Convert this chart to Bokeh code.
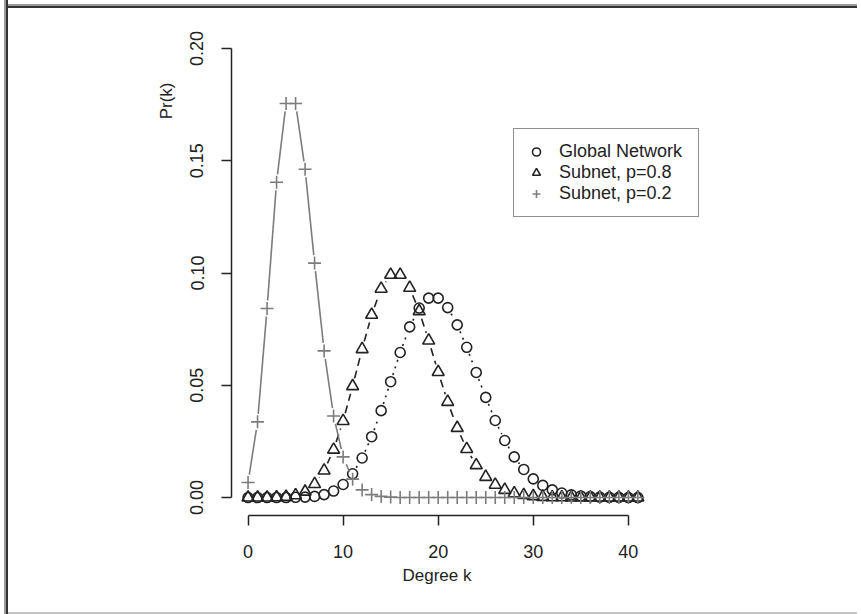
import math
from bokeh.plotting import figure
from bokeh.models import (Range1d, FixedTicker, PrintfTickFormatter, Legend,
                          LegendItem, Title, ColumnDataSource, InlineStyleSheet)
from bokeh.embed import file_html
from bokeh.resources import INLINE

# ---------------- data ----------------
degree_k = list(range(0, 42))
global_network = [0.0000, 0.0000, 0.0000, 0.0000, 0.0000, 0.0001, 0.0002, 0.0005,
                  0.0013, 0.0029, 0.0058, 0.0106, 0.0176, 0.0271, 0.0387, 0.0516,
                  0.0646, 0.0760, 0.0844, 0.0888, 0.0888, 0.0846, 0.0769, 0.0669,
                  0.0557, 0.0446, 0.0343, 0.0254, 0.0181, 0.0125, 0.0083, 0.0054,
                  0.0034, 0.0020, 0.0012, 0.0007, 0.0004, 0.0002, 0.0001, 0.0001,
                  0.0000, 0.0000]
subnet_p08 = [0.0000, 0.0000, 0.0000, 0.0001, 0.0003, 0.0010, 0.0026, 0.0060,
              0.0120, 0.0213, 0.0341, 0.0496, 0.0661, 0.0814, 0.0930, 0.0992,
              0.0992, 0.0934, 0.0830, 0.0699, 0.0559, 0.0426, 0.0310, 0.0216,
              0.0144, 0.0092, 0.0057, 0.0034, 0.0019, 0.0011, 0.0006, 0.0003,
              0.0001, 0.0001, 0.0000, 0.0000, 0.0000, 0.0000, 0.0000, 0.0000,
              0.0000, 0.0000]
subnet_p02 = [0.0067, 0.0337, 0.0842, 0.1404, 0.1755, 0.1755, 0.1462, 0.1044,
              0.0653, 0.0363, 0.0181, 0.0082, 0.0034, 0.0013, 0.0005, 0.0002,
              0.0000, 0.0000, 0.0000, 0.0000, 0.0000, 0.0000, 0.0000, 0.0000,
              0.0000, 0.0000, 0.0000, 0.0000, 0.0000, 0.0000, 0.0000, 0.0000,
              0.0000, 0.0000, 0.0000, 0.0000, 0.0000, 0.0000, 0.0000, 0.0000,
              0.0000, 0.0000]
series_labels = ["Global Network", "Subnet, p=0.8", "Subnet, p=0.2"]
x_ticks = [0, 10, 20, 30, 40]
y_ticks = [0.00, 0.05, 0.10, 0.15, 0.20]
x_title = "Degree k"
y_title = "Pr(k)"

# ---------------- layout ----------------
W, H = 861, 614
FL, FT, FB = 231, 30, 515
FR = 760                      # frame reaches far enough for the legend
PX_PER_K = 421 / 44.28        # R-style padded range over 421 px
XR = (-1.74, -1.74 + (FR - FL) / PX_PER_K)
YR = (-0.008, 0.208)
FONT = "Liberation Sans"
DARK = "#222222"
GRAY = "#7c7c7c"

p = figure(width=W, height=H, x_range=Range1d(*XR), y_range=Range1d(*YR),
           output_backend="svg", toolbar_location=None,
           min_border_left=FL, min_border_right=W - FR,
           min_border_top=FT, min_border_bottom=H - FB)
p.outline_line_color = None
p.grid.visible = False
p.background_fill_color = None
p.border_fill_color = None
# thin double frame round the picture (top/left) and a faint bottom rule
p.stylesheets = [InlineStyleSheet(css=(
    ":host { background: "
    "linear-gradient(#fff, #fff) 100% 0 / 4px 100% no-repeat, "
    "linear-gradient(to right, #fff 0, #fff 4px, #9a9a9a 4px, #9a9a9a 6px, "
    "#333 6px, #333 8px, transparent 8px) 0 0 / 8px 100% no-repeat, "
    "linear-gradient(to bottom, #fff 0, #fff 4px, #9a9a9a 4px, #9a9a9a 6px, "
    "#333 6px, #333 8px, transparent 8px) 0 0 / 100% 8px no-repeat, "
    "linear-gradient(#c4c4c4, #c4c4c4) 0 100% / 100% 2px no-repeat, white; }"))]

for ax in (p.xaxis[0], p.yaxis[0]):
    ax.axis_line_color = DARK
    ax.axis_line_width = 1.5
    ax.major_tick_line_color = DARK
    ax.major_tick_line_width = 1.5
    ax.major_tick_out = 10
    ax.major_tick_in = 0
    ax.minor_tick_line_color = None
    ax.major_label_text_font = FONT
    ax.major_label_text_font_size = "18px"
    ax.major_label_text_color = DARK

p.xaxis[0].ticker = FixedTicker(ticks=x_ticks)
p.xaxis[0].bounds = (x_ticks[0], x_ticks[-1])
p.xaxis[0].major_label_standoff = 19

p.yaxis[0].ticker = FixedTicker(ticks=y_ticks)
p.yaxis[0].bounds = (y_ticks[0], y_ticks[-1])
p.yaxis[0].formatter = PrintfTickFormatter(format="%.2f")
p.yaxis[0].major_label_orientation = "vertical"
p.yaxis[0].major_label_standoff = 18

# axis titles placed like the R original
p.add_layout(Title(text=x_title, align="left", offset=171, standoff=7,
                   text_font=FONT, text_font_size="17px",
                   text_font_style="normal", text_color=DARK), "below")
p.add_layout(Title(text=y_title, align="right", offset=52, standoff=23,
                   text_font=FONT, text_font_size="17px",
                   text_font_style="normal", text_color=DARK), "left")

# pixel scales, used to leave gaps round the points like R's type="b"
sx = PX_PER_K
sy = (FB - FT) / (YR[1] - YR[0])


def gapped(xs, ys, gap):
    x0, y0, x1, y1 = [], [], [], []
    for i in range(len(xs) - 1):
        dx = (xs[i + 1] - xs[i]) * sx
        dy = (ys[i + 1] - ys[i]) * sy
        L = math.hypot(dx, dy)
        if L <= 2 * gap:
            continue
        f = gap / L
        x0.append(xs[i] + (xs[i + 1] - xs[i]) * f)
        y0.append(ys[i] + (ys[i + 1] - ys[i]) * f)
        x1.append(xs[i + 1] - (xs[i + 1] - xs[i]) * f)
        y1.append(ys[i + 1] - (ys[i + 1] - ys[i]) * f)
    return dict(x0=x0, y0=y0, x1=x1, y1=y1)


specs = [
    (global_network, "circle", 10, DARK, "2 5", 7),
    (subnet_p08, "triangle", 12, DARK, "8 5", 8),
    (subnet_p02, "cross", 13, GRAY, "solid", 8),
]
legend_sizes = {"circle": 7, "triangle": 10, "cross": 11}
items = []
for (ys, marker, size, color, dash, gap), lab in zip(specs, series_labels):
    seg = ColumnDataSource(gapped(degree_k, ys, gap))
    p.segment(x0="x0", y0="y0", x1="x1", y1="y1", source=seg,
              line_color=color, line_width=1.6, line_dash=dash)
    p.scatter(x=degree_k, y=ys, marker=marker, size=size, fill_color=None,
              line_color=color, line_width=1.6)
    lr = p.scatter(x=[float("nan")], y=[float("nan")], marker=marker,
                   size=legend_sizes[marker], fill_color=None,
                   line_color=color, line_width=1.6)
    items.append(LegendItem(label=lab, renderers=[lr]))

legend = Legend(items=items, location=(282, 298), padding=12, spacing=0,
                glyph_width=20, glyph_height=21, label_height=21,
                label_standoff=13, label_width=127, margin=0,
                label_text_font=FONT, label_text_font_size="18px",
                label_text_color=DARK, border_line_color=DARK,
                border_line_width=1.5, background_fill_color="white",
                background_fill_alpha=1.0)
p.add_layout(legend)

open("out.html", "w").write(file_html(p, INLINE))
